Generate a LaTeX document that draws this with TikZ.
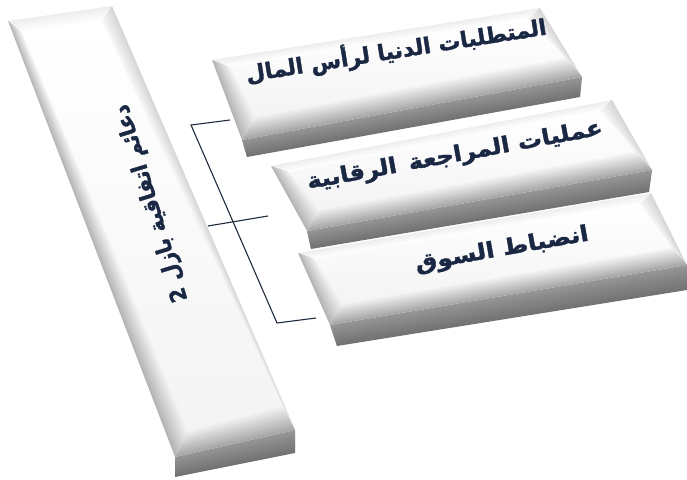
\documentclass[tikz,border=0pt]{standalone}
\usepackage{fontspec}
\newfontfamily\arabicfont[Script=Arabic,BoldFeatures={FakeBold=1.6}]{DejaVu Sans}
\TeXXeTstate=1
\usetikzlibrary{calc}
\definecolor{navy}{HTML}{1B2844}
\definecolor{lineC}{HTML}{1F2B3D}
\definecolor{sideA}{HTML}{959595}
\definecolor{sideB}{HTML}{737373}
\definecolor{botO}{HTML}{A8A8A8}
\definecolor{botI}{HTML}{F2F2F2}
\definecolor{leftO}{HTML}{B5B5B5}
\definecolor{leftI}{HTML}{F4F4F4}
\definecolor{rightO}{HTML}{D6D6D6}
\definecolor{rightI}{HTML}{F7F7F7}
\definecolor{topO}{HTML}{EDEDED}
\definecolor{topI}{HTML}{FFFFFF}
\definecolor{faceB}{HTML}{F4F4F4}
% strip between outer edge (#1,#2) and inner edge (#3,#4), colours outer #5 -> inner #6
\newcommand\gradstrip[6]{%
  \foreach \i in {0,...,11}{%
    \pgfmathsetmacro\ta{\i/12}%
    \pgfmathsetmacro\tb{min(1,(\i+1.4)/12)}%
    \pgfmathtruncatemacro\pc{100-\i*100/11}%
    \fill[#5!\pc!#6] ($(#1)!\ta!(#3)$) -- ($(#2)!\ta!(#4)$) -- ($(#2)!\tb!(#4)$) -- ($(#1)!\tb!(#3)$) -- cycle;
  }}
\newcommand\bevbox[1]{%
  \gradstrip{#1BL}{#1BR}{#1sBL}{#1sBR}{sideA}{sideB}%
  \shade[top color=white,bottom color=faceB] (#1iTL) -- (#1iTR) -- (#1iBR) -- (#1iBL) -- cycle;%
  \gradstrip{#1TL}{#1TR}{#1iTL}{#1iTR}{topO}{topI}%
  \gradstrip{#1TR}{#1BR}{#1iTR}{#1iBR}{rightO}{rightI}%
  \gradstrip{#1BR}{#1BL}{#1iBR}{#1iBL}{botO}{botI}%
  \gradstrip{#1BL}{#1TL}{#1iBL}{#1iTL}{leftO}{leftI}%
}
\tikzset{
  lbl/.style={font=\arabicfont\bfseries\fontsize{22}{26}\selectfont, text=navy, inner sep=0pt},
  conn/.style={draw=lineC, line width=1.1pt}
}
\begin{document}
\begin{tikzpicture}[x=1pt,y=-1pt]
\useasboundingbox (0,0) rectangle (687,479);
% ---- left tall box
\coordinate (LTL) at (8,21);   \coordinate (LTR) at (112,6);
\coordinate (LBR) at (295,430);\coordinate (LBL) at (175,457);
\coordinate (LiTL) at (22,33); \coordinate (LiTR) at (102,21);
\coordinate (LiBR) at (282,405);\coordinate (LiBL) at (189,430);
\coordinate (LsBR) at (295,453);\coordinate (LsBL) at (175,477);
\bevbox{L}
\node[lbl, rotate=107, xscale=0.92] (tl) at (152,203) {\beginR دعائم اتفاقية بازل 2\endR};
% ---- connectors
\coordinate (lbout) at (208,226);
\coordinate (brTop) at (191,125);
\coordinate (brBot) at (277,323);
\coordinate (b1in) at (230,120);
\coordinate (b2in) at (268,216);
\coordinate (b3in) at (316,318);
\draw[conn] (b1in) -- (brTop) -- (brBot) -- (b3in);
\draw[conn] (lbout) -- (b2in);
% ---- box 1
\coordinate (ATL) at (212,60);  \coordinate (ATR) at (540,8);
\coordinate (ABR) at (582,77);  \coordinate (ABL) at (242,140);
\coordinate (AiTL) at (230,67); \coordinate (AiTR) at (528,19);
\coordinate (AiBR) at (566,58); \coordinate (AiBL) at (256,116);
\coordinate (AsBL) at (247,157);\coordinate (AsBR) at (580,97);
\bevbox{A}
\node[lbl, rotate=9] (t1) at (396,50) {\beginR المتطلبات الدنيا لرأس المال\endR};
% ---- box 2
\coordinate (BTL) at (271,166); \coordinate (BTR) at (612,100);
\coordinate (BBR) at (652,170); \coordinate (BBL) at (307,231);
\coordinate (BiTL) at (289,172);\coordinate (BiTR) at (600,111);
\coordinate (BiBR) at (636,152);\coordinate (BiBL) at (320,209);
\coordinate (BsBL) at (311,249);\coordinate (BsBR) at (649,192);
\bevbox{B}
\node[lbl, rotate=10.5, xscale=1.1] (t2) at (455,156) {\beginR عمليات المراجعة\enspace الرقابية\endR};
% ---- box 3
\coordinate (CTL) at (298,253); \coordinate (CTR) at (651,193);
\coordinate (CBR) at (687,265); \coordinate (CBL) at (330,325);
\coordinate (CiTL) at (315,259);\coordinate (CiTR) at (640,204);
\coordinate (CiBR) at (672,248);\coordinate (CiBL) at (343,303);
\coordinate (CsBL) at (337,346);\coordinate (CsBR) at (687,290);
\bevbox{C}
\node[lbl, rotate=10, xscale=1.12] (t3) at (502,250) {\beginR انضباط السوق\endR};
\end{tikzpicture}
\end{document}
